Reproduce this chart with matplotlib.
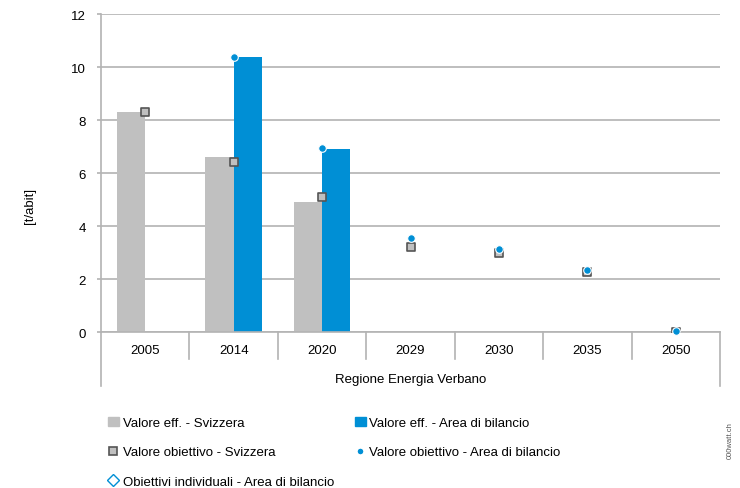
import matplotlib.pyplot as plt
import numpy as np
from matplotlib.lines import Line2D
from matplotlib.patches import Patch

# dati
anni = ['2005', '2014', '2020', '2029', '2030', '2035', '2050']
eff_svizzera = [8.3, 6.6, 4.9, np.nan, np.nan, np.nan, np.nan]
eff_area = [np.nan, 10.4, 6.9, np.nan, np.nan, np.nan, np.nan]
obiettivo_svizzera = [8.3, 6.4, 5.1, 3.2, 3.0, 2.25, 0.0]
obiettivo_area = [np.nan, 10.4, 6.95, 3.55, 3.15, 2.35, 0.05]

plt.rcParams['font.family'] = ['Liberation Sans', 'DejaVu Sans']

grigio = '#c0c0c0'
blu = '#008fd5'
linea = '#b3b3b3'

fig = plt.figure(figsize=(7.4, 4.89), dpi=100)
ax = fig.add_axes([0.1365, 0.319, 0.8365, 0.650])

x = np.arange(len(anni))
w = 0.32
ax.bar(x - w / 2, eff_svizzera, w, color=grigio, zorder=2)
ax.bar(x + w / 2, eff_area, w, color=blu, zorder=2)
ax.scatter(x, obiettivo_svizzera, marker='s', s=30, facecolor=grigio,
           edgecolor='#555555', linewidth=1.2, zorder=3)
ax.scatter(x, obiettivo_area, marker='o', s=30, facecolor=blu,
           edgecolor='white', linewidth=0.8, zorder=4, clip_on=False)

ax.set_xlim(-0.5, len(anni) - 0.5)
ax.set_ylim(0, 12)
ax.set_yticks(range(0, 13, 2))
ax.yaxis.grid(True, color=linea, linewidth=1.2, zorder=0)
ax.tick_params(axis='y', length=3, color=linea, width=1.2, labelsize=9.5, pad=8)
ax.set_xticks([])
for s in ['top', 'right']:
    ax.spines[s].set_visible(False)
ax.spines['left'].set_color(linea)
ax.spines['left'].set_linewidth(1.2)
ax.spines['bottom'].set_color(linea)
ax.spines['bottom'].set_linewidth(1.2)
ax.set_ylabel('[t/abit]', fontsize=9.5)
ax.yaxis.set_label_coords(-0.105, 0.40)

# riquadro categorie sotto l'asse
tr = ax.get_xaxis_transform()
for b in np.arange(0.5, len(anni) - 0.5, 1):
    ax.plot([b, b], [0, -0.085], transform=tr, color=linea, lw=1.2, clip_on=False)
for b in [-0.5, len(anni) - 0.5]:
    ax.plot([b, b], [0, -0.17], transform=tr, color=linea, lw=1.2, clip_on=False)
for i, a in enumerate(anni):
    ax.text(i, -0.058, a, transform=tr, ha='center', va='center', fontsize=9.5)
ax.text(3, -0.148, 'Regione Energia Verbano', transform=tr, ha='center',
        va='center', fontsize=9.5)

handles = [
    Patch(color=grigio, label='Valore eff. - Svizzera'),
    Line2D([], [], ls='', marker='s', ms=6, mfc=grigio, mec='#555555', mew=1.2,
           label='Valore obiettivo - Svizzera'),
    Line2D([], [], ls='', marker='D', ms=6, mfc='white', mec=blu, mew=1,
           label='Obiettivi individuali - Area di bilancio'),
    Patch(color=blu, label='Valore eff. - Area di bilancio'),
    Line2D([], [], ls='', marker='o', ms=5, mfc=blu, mec='white',
           label='Valore obiettivo - Area di bilancio'),
]
fig.legend(handles=handles, ncol=2, loc='upper left', bbox_to_anchor=(0.13, 0.17),
           frameon=False, fontsize=9.5, handlelength=0.8, handletextpad=0.3,
           columnspacing=1.6, labelspacing=1.3)

fig.text(0.987, 0.10, '000watt.ch', rotation=90, fontsize=5.5, color='#555555',
         ha='center', va='center')

fig.savefig('out.png', dpi=100)
